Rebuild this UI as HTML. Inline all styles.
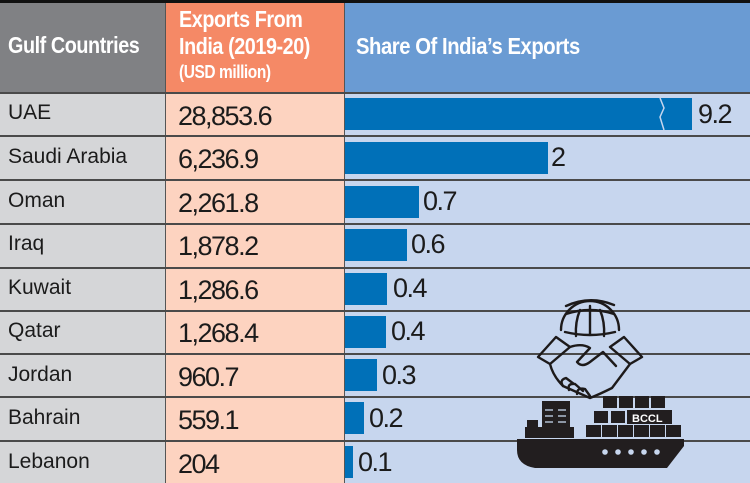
<!DOCTYPE html>
<html><head><meta charset="utf-8"><style>
*{margin:0;padding:0;box-sizing:border-box}
body{width:750px;height:483px;overflow:hidden;background:#c7d6ee;font-family:"Liberation Sans Narrow","Liberation Sans",sans-serif;position:relative}
.a{position:absolute}
.hd{color:#fff;font-weight:bold;letter-spacing:-0.5px;transform-origin:0 0;white-space:nowrap}
.c{font-size:21px;color:#1b1b1b;left:8px}
.n{font-size:27px;color:#1b1b1b;left:178px;letter-spacing:-1.5px}
.v{font-size:27px;color:#1b1b1b;letter-spacing:-1.5px}
.bar{background:#0070b8;height:32px}
.ln{left:0;width:750px;height:2px;background:#4a4a4a}
</style></head><body>
<div class="a" style="left:0;top:0;width:750px;height:3px;background:#111"></div>
<div class="a" style="left:0;top:3px;width:165px;height:90px;background:#808184"></div>
<div class="a" style="left:166px;top:3px;width:178px;height:90px;background:#f58966"></div>
<div class="a" style="left:345px;top:3px;width:405px;height:90px;background:#6a9bd3"></div>
<div class="a" style="left:0;top:93px;width:165px;height:390px;background:#d5d6d8"></div>
<div class="a" style="left:166px;top:93px;width:178px;height:390px;background:#fdd3c0"></div>
<div class="a" style="left:165px;top:3px;width:1px;height:480px;background:#555"></div>
<div class="a" style="left:344px;top:3px;width:1px;height:480px;background:#555"></div>
<div class="a hd" style="left:8px;top:32px;font-size:23px;transform:scaleX(0.86)">Gulf Countries</div>
<div class="a hd" style="left:179px;top:6px;font-size:23px;line-height:27px;transform:scaleX(0.86)">Exports From<br>India (2019-20)</div>
<div class="a hd" style="left:179px;top:62px;font-size:18px;transform:scaleX(0.86)">(USD million)</div>
<div class="a hd" style="left:356px;top:33px;font-size:23px;transform:scaleX(0.88)">Share Of India’s Exports</div>
<div class="a ln" style="top:92px"></div>
<div class="a ln" style="top:135px"></div>
<div class="a ln" style="top:179px"></div>
<div class="a ln" style="top:223px"></div>
<div class="a ln" style="top:267px"></div>
<div class="a ln" style="top:310px"></div>
<div class="a ln" style="top:353px"></div>
<div class="a ln" style="top:396px"></div>
<div class="a ln" style="top:440px"></div>

<div class="a c" style="top:101px">UAE</div><div class="a n" style="top:101px">28,853.6</div>
<div class="a c" style="top:145px">Saudi Arabia</div><div class="a n" style="top:144px">6,236.9</div>
<div class="a c" style="top:189px">Oman</div><div class="a n" style="top:188px">2,261.8</div>
<div class="a c" style="top:232px">Iraq</div><div class="a n" style="top:231px">1,878.2</div>
<div class="a c" style="top:276px">Kuwait</div><div class="a n" style="top:275px">1,286.6</div>
<div class="a c" style="top:319px">Qatar</div><div class="a n" style="top:318px">1,268.4</div>
<div class="a c" style="top:363px">Jordan</div><div class="a n" style="top:362px">960.7</div>
<div class="a c" style="top:406px">Bahrain</div><div class="a n" style="top:405px">559.1</div>
<div class="a c" style="top:450px">Lebanon</div><div class="a n" style="top:449px">204</div>

<div class="a bar" style="left:345px;top:98px;width:347px"></div>
<svg class="a" style="left:655px;top:98px" width="20" height="32"><polyline points="5,0 9,10 5,19 9,32" fill="none" stroke="#c7d6ee" stroke-width="1.5"/></svg>
<div class="a v" style="left:698px;top:99px">9.2</div>
<div class="a bar" style="left:345px;top:142px;width:203px"></div><div class="a v" style="left:551px;top:142px">2</div>
<div class="a bar" style="left:345px;top:186px;width:74px"></div><div class="a v" style="left:423px;top:186px">0.7</div>
<div class="a bar" style="left:345px;top:229px;width:62px"></div><div class="a v" style="left:411px;top:229px">0.6</div>
<div class="a bar" style="left:345px;top:273px;width:42px"></div><div class="a v" style="left:393px;top:273px">0.4</div>
<div class="a bar" style="left:345px;top:316px;width:41px"></div><div class="a v" style="left:391px;top:316px">0.4</div>
<div class="a bar" style="left:345px;top:359px;width:32px"></div><div class="a v" style="left:382px;top:360px">0.3</div>
<div class="a bar" style="left:345px;top:402px;width:19px"></div><div class="a v" style="left:369px;top:403px">0.2</div>
<div class="a bar" style="left:345px;top:446px;width:8px"></div><div class="a v" style="left:358px;top:447px">0.1</div>

<svg class="a" style="left:0;top:0" width="750" height="483">
<g fill="none" stroke="#1d1a1a" stroke-width="2.4" stroke-linecap="round" stroke-linejoin="round">
<path d="M561,330 A28,28 0 0 1 619,330"/>
<path d="M566,314 Q590,306 614,314"/>
<path d="M565,332 Q590,338 615,332"/>
<path d="M590,306 L590,334"/>
<path d="M580,310 Q575,322 576,336 M600,310 Q605,322 604,336"/>
<path d="M566,306 Q590,295 614,305"/>
<path d="M538,357 L556,337 L570,347 L550,364 Z"/>
<path d="M642,357 L624,337 L610,347 L630,364 Z"/>
<path d="M550,364 Q553,376 563,386 L590,398 Q600,394 612,388 L630,364"/>
<path d="M570,347 Q582,343 590,348 L577,362 Q582,368 590,362 L603,352 L616,366"/>
<path d="M563,386 Q559,380 566,378 L574,384 M569,390 Q567,383 575,384 L583,391 M577,394 Q577,387 585,389 L590,396"/>
</g>
<path d="M517,439 L684,439 L684,446 L667,468 L535,468 Q517,465 517,450 Z" fill="#221e1f"/>
<g fill="#c7d6ee"><circle cx="605" cy="452" r="2.8"/><circle cx="618" cy="452" r="2.8"/><circle cx="631" cy="452" r="2.8"/><circle cx="644" cy="452" r="2.8"/><circle cx="657" cy="452" r="2.8"/></g>
<g fill="#221e1f">
<rect x="525" y="427" width="49" height="11"/>
<rect x="527" y="420" width="11" height="8"/>
<rect x="542" y="401" width="28" height="27"/>
<rect x="586" y="425" width="15" height="12"/><rect x="602" y="425" width="15" height="12"/><rect x="618" y="425" width="15" height="12"/><rect x="634" y="425" width="15" height="12"/><rect x="650" y="425" width="15" height="12"/><rect x="666" y="425" width="15" height="12"/>
<rect x="594" y="411" width="14" height="12"/><rect x="611" y="411" width="14" height="12"/>
<rect x="603" y="396" width="14" height="12"/><rect x="619" y="396" width="14" height="12"/><rect x="635" y="396" width="14" height="12"/><rect x="651" y="396" width="14" height="12"/>
<rect x="627" y="410" width="45" height="14"/>
</g>
<g stroke="#c7d6ee" stroke-width="1.3"><line x1="545" y1="410" x2="553" y2="410"/><line x1="545" y1="416" x2="553" y2="416"/><line x1="545" y1="422" x2="553" y2="422"/><line x1="558" y1="410" x2="566" y2="410"/><line x1="558" y1="416" x2="566" y2="416"/><line x1="558" y1="422" x2="566" y2="422"/></g>
<text x="632" y="422" fill="#fff" font-family="Liberation Sans" font-weight="bold" font-size="11">BCCL</text>
</svg>
</body></html>
